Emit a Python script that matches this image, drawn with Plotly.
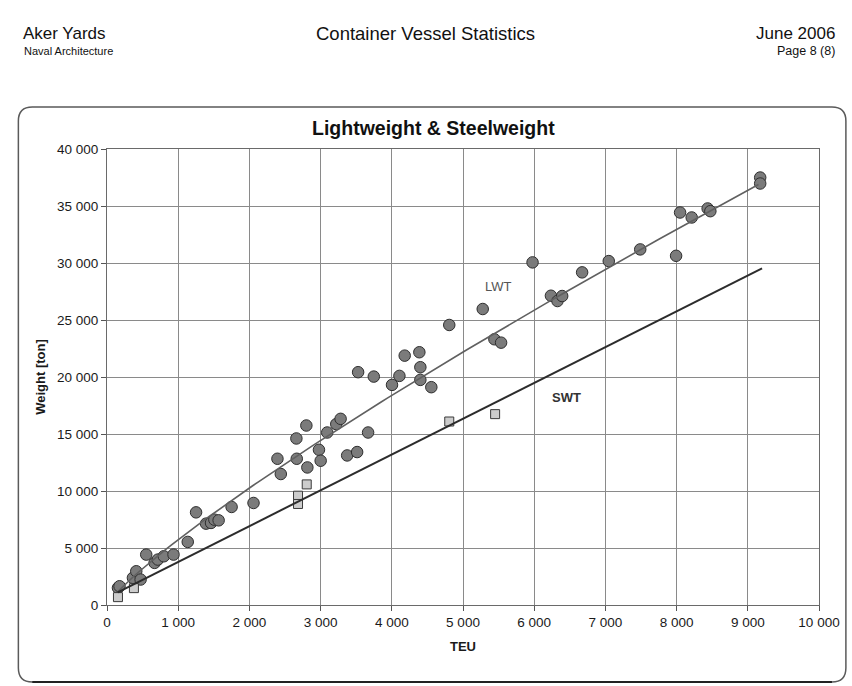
import numpy as np
import plotly.graph_objects as go

# Lightweight (LWT) per vessel: capacity [TEU] and weight [ton]
lwt_teu = [154, 176, 364, 411, 472, 551, 668, 714, 798, 934,
           1134, 1251, 1391, 1461, 1508, 1568, 1750, 2058, 2394, 2441,
           2660, 2665, 2800, 2814, 2977, 3001, 3093, 3220, 3281, 3373,
           3513, 3527, 3667, 3747, 4003, 4107, 4181, 4387, 4401, 4401,
           4555, 4807, 5277, 5441, 5535, 5977, 6235, 6327, 6393, 6673,
           7047, 7489, 7993, 8049, 8212, 8436, 8474, 9174, 9174]
lwt_ton = [1506, 1646, 2382, 2960, 2233, 4422, 3695, 3985, 4274, 4422,
           5534, 8127, 7137, 7198, 7487, 7426, 8600, 8950, 12829, 11489,
           14607, 12829, 15745, 12067, 13617, 12654, 15132, 15868, 16331, 13118,
           13416, 20421, 15132, 20036, 19309, 20097, 21875, 22172, 20859, 19747,
           19107, 24563, 25964, 23311, 23013, 30054, 27129, 26665, 27103, 29178,
           30168, 31192, 30632, 34430, 33994, 34783, 34546, 37497, 36971]

# Steelweight (SWT) per vessel
swt_teu = [154, 378, 2683, 2683, 2805, 4807, 5451]
swt_ton = [690, 1480, 9589, 8862, 10579, 16096, 16743]

x_ticks = list(range(0, 10001, 1000))
y_ticks = list(range(0, 40001, 5000))

# TEU span covered by each trend line
lwt_span = [150, 9150]
swt_span = [150, 9200]

# Trend lines: power fit for LWT, linear fit for SWT
b_l, lna_l = np.polyfit(np.log(lwt_teu), np.log(lwt_ton), 1)
xs_l = np.linspace(lwt_span[0], lwt_span[1], 120)
ys_l = np.exp(lna_l) * xs_l ** b_l

k_s, c_s = np.polyfit(swt_teu, swt_ton, 1)
xs_s = np.array(swt_span, dtype=float)
ys_s = k_s * xs_s + c_s

W, H = 852, 686
L, R, T, B = 107, 822, 149, 605


def px(x):
    return (x - L) / (R - L)


def py(y):
    return (B - y) / (B - T)


fig = go.Figure()

fig.add_trace(go.Scatter(
    x=lwt_teu, y=lwt_ton, mode="markers", name="LWT",
    marker=dict(symbol="circle", size=11.5, color="#7b7b7b",
                line=dict(color="#2e2e2e", width=1)),
))
fig.add_trace(go.Scatter(
    x=swt_teu, y=swt_ton, mode="markers", name="SWT",
    marker=dict(symbol="square", size=9, color="#cccccc",
                line=dict(color="#3a3a3a", width=1)),
))
fig.add_trace(go.Scatter(
    x=xs_l, y=ys_l, mode="lines", line=dict(color="#606060", width=1.6),
    hoverinfo="skip",
))
fig.add_trace(go.Scatter(
    x=xs_s, y=ys_s, mode="lines", line=dict(color="#2c2c2c", width=2),
    hoverinfo="skip",
))

font = "Liberation Sans, Arial, sans-serif"

axis_common = dict(
    showgrid=True, gridcolor="#8a8a8a", gridwidth=1,
    showline=True, linecolor="#6a6a6a", linewidth=1, mirror=True,
    ticks="outside", ticklen=5, tickcolor="#555555",
    zeroline=False, tickformat=",d",
    tickfont=dict(family=font, size=13.5, color="#1a1a1a"),
)

fig.update_xaxes(range=[0, 10000], tickvals=x_ticks,
                 title=dict(text="<b>TEU</b>", font=dict(family=font, size=13, color="#1a1a1a"),
                            standoff=12),
                 **axis_common)
fig.update_yaxes(range=[0, 40000], tickvals=y_ticks,
                 title=dict(text="<b>Weight [ton]</b>", font=dict(family=font, size=13, color="#1a1a1a"),
                            standoff=8),
                 **axis_common)

annotations = [
    dict(text="Aker Yards", x=px(21), y=py(33), xanchor="left", yanchor="middle",
         font=dict(family=font, size=17, color="#111111")),
    dict(text="Naval Architecture", x=px(22), y=py(51), xanchor="left", yanchor="middle",
         font=dict(family=font, size=11, color="#111111")),
    dict(text="Container Vessel Statistics", x=px(427), y=py(33), xanchor="center", yanchor="middle",
         font=dict(family=font, size=18.5, color="#111111")),
    dict(text="June 2006", x=px(840), y=py(33), xanchor="right", yanchor="middle",
         font=dict(family=font, size=17, color="#111111")),
    dict(text="Page 8 (8)", x=px(840), y=py(51), xanchor="right", yanchor="middle",
         font=dict(family=font, size=12.5, color="#111111")),
    dict(text="<b>Lightweight &amp; Steelweight</b>", x=px(435), y=py(128),
         xanchor="center", yanchor="middle",
         font=dict(family=font, size=19.5, color="#111111")),
    dict(text="LWT", x=px(500), y=py(286), xanchor="center", yanchor="middle",
         font=dict(family=font, size=13, color="#555555")),
    dict(text="<b>SWT</b>", x=px(568), y=py(397), xanchor="center", yanchor="middle",
         font=dict(family=font, size=13, color="#333333")),
]
for a in annotations:
    a.update(xref="paper", yref="paper", showarrow=False)

# Rounded outer frame around the chart
x0, x1 = px(18), px(849)
y0, y1 = py(682), py(107)
rx, ry = 14 / (R - L), 14 / (B - T)
frame = (f"M {x0 + rx},{y1} L {x1 - rx},{y1} Q {x1},{y1} {x1},{y1 - ry} "
         f"L {x1},{y0 + ry} Q {x1},{y0} {x1 - rx},{y0} "
         f"L {x0 + rx},{y0} Q {x0},{y0} {x0},{y0 + ry} "
         f"L {x0},{y1 - ry} Q {x0},{y1} {x0 + rx},{y1} Z")

fig.update_layout(
    width=W, height=H,
    margin=dict(l=L, r=W - R, t=T, b=H - B),
    paper_bgcolor="white", plot_bgcolor="white",
    showlegend=False,
    separators=". ",
    annotations=annotations,
    shapes=[
        dict(type="path", path=frame, xref="paper", yref="paper",
             line=dict(color="#5a5a5a", width=1.5), layer="below"),
        dict(type="line", xref="paper", yref="paper",
             x0=x0 + rx, x1=x1 - rx, y0=y0, y1=y0,
             line=dict(color="#222222", width=2.2)),
    ],
)

fig.write_html("out.html")
